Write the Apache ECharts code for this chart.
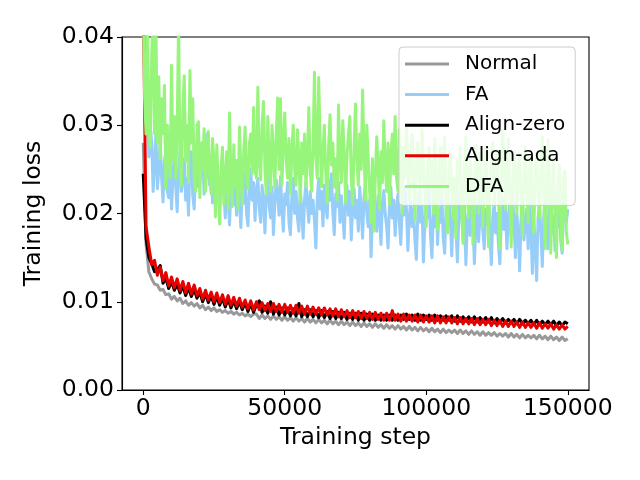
<!DOCTYPE html>
<html>
<head>
<meta charset="utf-8">
<script src="https://cdn.jsdelivr.net/npm/echarts@6/dist/echarts.min.js"></script>
<style>html,body{margin:0;padding:0;background:#fff}#c{width:640px;height:480px}</style>
</head>
<body>
<div id="c"></div>
<script>
// Sampling intervals (training steps between stored points)
const STEP = 1000;      // smooth curves
const STEP_FINE = 500;  // noisy curves (FA, DFA)
const xTicks = [0, 50000, 100000, 150000];
const seriesNames = ['Normal', 'FA', 'Align-zero', 'Align-ada', 'DFA'];

const normal = [
0.0280,0.0165,0.0134,0.0126,0.0120,0.0119,0.0113,0.0114,0.0108,0.0109,
0.0103,0.0106,0.0101,0.0104,0.0098,0.0101,0.0096,0.0099,0.0095,0.0098,
0.0093,0.0096,0.0091,0.0094,0.0090,0.0093,0.0089,0.0091,0.0088,0.0090,
0.0087,0.0089,0.0086,0.0088,0.0085,0.0087,0.0084,0.0086,0.0083,0.0086,
0.0086,0.0081,0.0085,0.0081,0.0084,0.0080,0.0084,0.0080,0.0083,0.0079,
0.0083,0.0079,0.0082,0.0078,0.0082,0.0078,0.0081,0.0077,0.0081,0.0077,
0.0080,0.0076,0.0080,0.0076,0.0079,0.0075,0.0079,0.0075,0.0078,0.0074,
0.0078,0.0074,0.0077,0.0073,0.0077,0.0073,0.0076,0.0072,0.0076,0.0072,
0.0075,0.0071,0.0075,0.0071,0.0074,0.0070,0.0074,0.0070,0.0073,0.0069,
0.0073,0.0069,0.0072,0.0068,0.0072,0.0068,0.0071,0.0067,0.0071,0.0067,
0.0070,0.0066,0.0070,0.0066,0.0069,0.0065,0.0069,0.0065,0.0068,0.0065,
0.0068,0.0064,0.0068,0.0064,0.0067,0.0063,0.0067,0.0063,0.0066,0.0062,
0.0066,0.0062,0.0065,0.0062,0.0065,0.0061,0.0064,0.0061,0.0064,0.0060,
0.0064,0.0060,0.0063,0.0059,0.0063,0.0059,0.0062,0.0059,0.0062,0.0058,
0.0062,0.0058,0.0061,0.0057,0.0061,0.0057,0.0060,0.0056,0.0060,0.0056,
0.0058];

const fa = [
0.0450,0.0420,0.0400,0.0330,0.0264,0.0300,0.0280,0.0225,0.0260,0.0290,
0.0228,0.0250,0.0285,0.0240,0.0213,0.0260,0.0270,0.0225,0.0218,0.0275,
0.0205,0.0240,0.0268,0.0230,0.0202,0.0250,0.0270,0.0225,0.0240,0.0262,
0.0215,0.0240,0.0198,0.0255,0.0270,0.0220,0.0205,0.0250,0.0275,0.0230,
0.0235,0.0262,0.0280,0.0222,0.0250,0.0290,0.0245,0.0232,0.0265,0.0212,
0.0240,0.0255,0.0218,0.0242,0.0205,0.0235,0.0258,0.0225,0.0195,0.0240,
0.0215,0.0187,0.0232,0.0250,0.0210,0.0228,0.0198,0.0244,0.0215,0.0184,
0.0230,0.0212,0.0245,0.0200,0.0186,0.0228,0.0250,0.0215,0.0235,0.0192,
0.0225,0.0240,0.0205,0.0190,0.0232,0.0215,0.0178,0.0226,0.0245,0.0208,
0.0195,0.0230,0.0176,0.0212,0.0238,0.0220,0.0198,0.0242,0.0205,0.0180,
0.0222,0.0210,0.0235,0.0190,0.0176,0.0218,0.0240,0.0200,0.0225,0.0195,
0.0180,0.0228,0.0205,0.0172,0.0215,0.0236,0.0210,0.0190,0.0225,0.0200,
0.0215,0.0192,0.0161,0.0218,0.0240,0.0205,0.0225,0.0186,0.0232,0.0210,
0.0195,0.0238,0.0215,0.0245,0.0200,0.0176,0.0222,0.0208,0.0235,0.0190,
0.0220,0.0200,0.0172,0.0215,0.0232,0.0198,0.0225,0.0170,0.0210,0.0228,
0.0195,0.0215,0.0180,0.0230,0.0205,0.0172,0.0218,0.0235,0.0200,0.0185,
0.0215,0.0151,0.0198,0.0228,0.0205,0.0180,0.0220,0.0195,0.0165,0.0212,
0.0226,0.0200,0.0185,0.0161,0.0210,0.0230,0.0195,0.0215,0.0175,0.0205,
0.0222,0.0190,0.0165,0.0210,0.0198,0.0230,0.0205,0.0158,0.0195,0.0215,
0.0185,0.0205,0.0170,0.0148,0.0198,0.0225,0.0190,0.0210,0.0145,0.0188,
0.0212,0.0195,0.0228,0.0175,0.0150,0.0200,0.0185,0.0218,0.0165,0.0205,
0.0190,0.0222,0.0172,0.0155,0.0205,0.0185,0.0215,0.0195,0.0152,0.0198,
0.0215,0.0182,0.0145,0.0195,0.0225,0.0200,0.0170,0.0210,0.0142,0.0190,
0.0205,0.0175,0.0222,0.0192,0.0143,0.0185,0.0210,0.0168,0.0198,0.0215,
0.0180,0.0160,0.0205,0.0188,0.0220,0.0175,0.0142,0.0195,0.0212,0.0178,
0.0200,0.0165,0.0143,0.0190,0.0218,0.0182,0.0205,0.0160,0.0196,0.0212,
0.0175,0.0220,0.0190,0.0150,0.0200,0.0180,0.0135,0.0195,0.0212,0.0170,
0.0190,0.0205,0.0160,0.0218,0.0180,0.0132,0.0192,0.0165,0.0124,0.0195,
0.0212,0.0178,0.0140,0.0195,0.0215,0.0185,0.0160,0.0205,0.0220,0.0178,
0.0198,0.0158,0.0212,0.0185,0.0222,0.0170,0.0155,0.0200,0.0218,0.0190,
0.0205];

const alignZero = [
0.0245,0.0172,0.0150,0.0143,0.0134,0.0136,0.0141,0.0121,0.0127,0.0115,
0.0123,0.0113,0.0120,0.0110,0.0118,0.0107,0.0116,0.0106,0.0114,0.0104,
0.0111,0.0100,0.0109,0.0099,0.0107,0.0097,0.0106,0.0096,0.0104,0.0094,
0.0103,0.0093,0.0101,0.0092,0.0100,0.0091,0.0099,0.0089,0.0098,0.0088,
0.0097,0.0101,0.0088,0.0095,0.0087,0.0100,0.0086,0.0094,0.0085,0.0093,
0.0085,0.0093,0.0084,0.0092,0.0084,0.0098,0.0083,0.0091,0.0083,0.0091,
0.0083,0.0090,0.0082,0.0090,0.0082,0.0089,0.0081,0.0089,0.0081,0.0088,
0.0081,0.0088,0.0080,0.0087,0.0080,0.0087,0.0079,0.0087,0.0079,0.0086,
0.0079,0.0086,0.0079,0.0085,0.0079,0.0085,0.0079,0.0085,0.0079,0.0085,
0.0079,0.0085,0.0080,0.0086,0.0080,0.0085,0.0079,0.0086,0.0079,0.0085,
0.0080,0.0085,0.0079,0.0085,0.0079,0.0084,0.0079,0.0084,0.0079,0.0084,
0.0078,0.0084,0.0078,0.0083,0.0078,0.0083,0.0077,0.0083,0.0077,0.0082,
0.0077,0.0082,0.0077,0.0082,0.0076,0.0081,0.0076,0.0081,0.0076,0.0080,
0.0076,0.0080,0.0075,0.0080,0.0075,0.0079,0.0075,0.0079,0.0074,0.0079,
0.0074,0.0078,0.0074,0.0078,0.0074,0.0078,0.0073,0.0077,0.0073,0.0077,
0.0075];

const alignAda = [
0.0450,0.0185,0.0162,0.0142,0.0147,0.0130,0.0139,0.0124,0.0133,0.0118,
0.0128,0.0116,0.0126,0.0113,0.0123,0.0110,0.0121,0.0109,0.0119,0.0107,
0.0115,0.0103,0.0113,0.0102,0.0111,0.0100,0.0110,0.0099,0.0108,0.0097,
0.0107,0.0096,0.0105,0.0095,0.0104,0.0094,0.0102,0.0092,0.0101,0.0091,
0.0100,0.0091,0.0099,0.0090,0.0098,0.0089,0.0098,0.0089,0.0097,0.0088,
0.0097,0.0088,0.0096,0.0087,0.0096,0.0087,0.0095,0.0086,0.0095,0.0086,
0.0094,0.0086,0.0093,0.0085,0.0093,0.0085,0.0092,0.0084,0.0092,0.0083,
0.0091,0.0083,0.0090,0.0082,0.0090,0.0082,0.0089,0.0081,0.0089,0.0081,
0.0088,0.0080,0.0088,0.0080,0.0087,0.0079,0.0087,0.0079,0.0090,0.0079,
0.0086,0.0078,0.0086,0.0078,0.0085,0.0078,0.0085,0.0077,0.0085,0.0077,
0.0084,0.0077,0.0084,0.0076,0.0084,0.0076,0.0083,0.0076,0.0083,0.0076,
0.0082,0.0075,0.0082,0.0075,0.0081,0.0075,0.0081,0.0074,0.0081,0.0074,
0.0080,0.0074,0.0080,0.0073,0.0079,0.0073,0.0079,0.0072,0.0078,0.0072,
0.0078,0.0072,0.0077,0.0071,0.0077,0.0071,0.0076,0.0071,0.0076,0.0070,
0.0076,0.0070,0.0075,0.0070,0.0075,0.0069,0.0074,0.0069,0.0074,0.0069,
0.0072];

const dfa = [
0.0450,0.0330,0.0290,0.0420,0.0300,0.0275,0.0380,0.0430,0.0290,0.0410,
0.0280,0.0355,0.0262,0.0330,0.0290,0.0345,0.0228,0.0300,0.0270,0.0240,
0.0368,0.0260,0.0310,0.0240,0.0300,0.0420,0.0250,0.0232,0.0320,0.0356,
0.0260,0.0300,0.0235,0.0362,0.0280,0.0330,0.0240,0.0225,0.0300,0.0304,
0.0218,0.0280,0.0250,0.0296,0.0225,0.0270,0.0293,0.0240,0.0222,0.0285,
0.0260,0.0196,0.0278,0.0230,0.0188,0.0250,0.0275,0.0210,0.0240,0.0270,
0.0205,0.0314,0.0240,0.0208,0.0278,0.0230,0.0260,0.0205,0.0298,0.0250,
0.0210,0.0270,0.0298,0.0240,0.0228,0.0280,0.0290,0.0245,0.0320,0.0250,
0.0240,0.0343,0.0260,0.0238,0.0300,0.0327,0.0250,0.0222,0.0310,0.0260,
0.0225,0.0300,0.0270,0.0230,0.0290,0.0331,0.0250,0.0330,0.0232,0.0280,
0.0314,0.0262,0.0240,0.0285,0.0222,0.0270,0.0300,0.0250,0.0232,0.0295,
0.0260,0.0213,0.0280,0.0245,0.0290,0.0230,0.0262,0.0320,0.0250,0.0225,
0.0275,0.0360,0.0265,0.0240,0.0354,0.0285,0.0230,0.0270,0.0300,0.0245,
0.0212,0.0275,0.0312,0.0255,0.0280,0.0230,0.0262,0.0215,0.0323,0.0258,
0.0235,0.0305,0.0270,0.0212,0.0265,0.0290,0.0310,0.0240,0.0210,0.0275,
0.0324,0.0260,0.0232,0.0290,0.0250,0.0340,0.0275,0.0215,0.0300,0.0262,
0.0225,0.0190,0.0262,0.0180,0.0240,0.0287,0.0255,0.0205,0.0270,0.0235,
0.0305,0.0252,0.0225,0.0280,0.0210,0.0265,0.0290,0.0245,0.0310,0.0240,
0.0225,0.0295,0.0260,0.0200,0.0275,0.0240,0.0300,0.0255,0.0215,0.0270,
0.0290,0.0235,0.0192,0.0262,0.0280,0.0245,0.0210,0.0295,0.0255,0.0225,
0.0185,0.0250,0.0275,0.0230,0.0260,0.0200,0.0285,0.0245,0.0182,0.0235,
0.0275,0.0220,0.0255,0.0287,0.0205,0.0178,0.0245,0.0268,0.0230,0.0195,
0.0240,0.0172,0.0260,0.0230,0.0275,0.0205,0.0166,0.0250,0.0287,0.0225,
0.0195,0.0262,0.0240,0.0165,0.0215,0.0278,0.0250,0.0200,0.0268,0.0230,
0.0185,0.0240,0.0275,0.0220,0.0162,0.0235,0.0255,0.0280,0.0210,0.0245,
0.0272,0.0225,0.0160,0.0240,0.0295,0.0260,0.0205,0.0235,0.0285,0.0220,
0.0162,0.0230,0.0270,0.0245,0.0200,0.0255,0.0268,0.0215,0.0175,0.0240,
0.0275,0.0230,0.0190,0.0250,0.0265,0.0210,0.0178,0.0245,0.0270,0.0225,
0.0195,0.0250,0.0287,0.0230,0.0160,0.0215,0.0283,0.0240,0.0155,0.0225,
0.0262,0.0200,0.0150,0.0230,0.0255,0.0195,0.0158,0.0240,0.0248,0.0180,
0.0165];

const seriesValues = [normal, fa, alignZero, alignAda, dfa];
const seriesSteps = [STEP, STEP_FINE, STEP, STEP, STEP_FINE];
const colors = ['#999999', '#96cdf9', '#000000', '#e60000', '#98f57c'];

const FONT = 'DejaVu Sans';
const chart = echarts.init(document.getElementById('c'), null, {renderer: 'canvas'});

const series = seriesNames.map((name, k) => ({
  name: name,
  type: 'line',
  symbol: 'none',
  clip: true,
  animation: false,
  lineStyle: {width: 3, color: colors[k], join: 'round'},
  itemStyle: {color: colors[k]},
  data: seriesValues[k].map((v, i) => [i * seriesSteps[k], v])
}));

chart.setOption({
  backgroundColor: '#ffffff',
  animation: false,
  grid: {left: 122, right: 51, top: 37, bottom: 90, show: true,
         borderColor: '#000', borderWidth: 1.1, backgroundColor: 'transparent'},
  xAxis: {
    type: 'value', min: -7500, max: 157500,
    splitLine: {show: false},
    axisLine: {show: true, onZero: false, lineStyle: {color: '#000', width: 1.1}},
    axisTick: {show: true, customValues: xTicks, length: 5, lineStyle: {color: '#000', width: 1.1}},
    axisLabel: {customValues: xTicks, fontSize: 23.5, color: '#000', fontFamily: FONT, margin: 7,
                formatter: v => String(v)},
    name: 'Training step', nameLocation: 'middle', nameGap: 36,
    nameTextStyle: {fontSize: 23.5, color: '#000', fontFamily: FONT}
  },
  yAxis: {
    type: 'value', min: 0, max: 0.04, interval: 0.01,
    splitLine: {show: false},
    axisLine: {show: true, onZero: false, lineStyle: {color: '#000', width: 1.1}},
    axisTick: {show: true, length: 5, lineStyle: {color: '#000', width: 1.1}},
    axisLabel: {fontSize: 23.5, color: '#000', fontFamily: FONT, margin: 8,
                formatter: v => v.toFixed(2)},
    name: 'Training loss', nameLocation: 'middle', nameGap: 76,
    nameTextStyle: {fontSize: 23.5, color: '#000', fontFamily: FONT}
  },
  legend: {
    data: seriesNames,
    icon: 'rect',
    orient: 'vertical', left: 399, top: 47,
    padding: [6, 10, 8, 6],
    itemWidth: 44, itemHeight: 3, itemGap: 8.6,
    backgroundColor: 'rgba(255,255,255,0.8)',
    borderColor: '#cccccc', borderWidth: 1, borderRadius: 4,
    textStyle: {fontSize: 20, color: '#000', fontFamily: FONT, lineHeight: 22, padding: [0, 0, 0, 11]}
  },
  series: series
});
</script>
</body>
</html>
